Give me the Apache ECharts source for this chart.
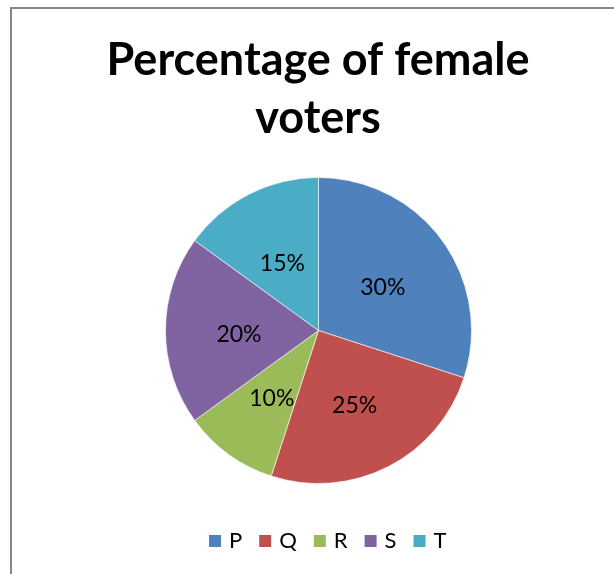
<!DOCTYPE html>
<html>
<head>
<meta charset="utf-8">
<script src="https://cdn.jsdelivr.net/npm/echarts@6/dist/echarts.min.js"></script>
<style>
  html, body { margin: 0; padding: 0; background: #fff; }
  #chart { width: 614px; height: 574px; }
</style>
</head>
<body>
<div id="chart"></div>
<script>
// Share of female voters by group
const categories = ['P', 'Q', 'R', 'S', 'T'];
const values = [30, 25, 10, 20, 15];
const colors = ['#4F81BD', '#C0504D', '#9BBB59', '#8064A2', '#4BACC6'];
const titleText = 'Percentage of female\nvoters';

const chart = echarts.init(document.getElementById('chart'));

chart.setOption({
  animation: false,
  backgroundColor: '#ffffff',
  title: {
    text: titleText,
    left: 313,
    textAlign: 'center',
    top: 26,
    textStyle: {
      fontFamily: 'Lato',
      fontWeight: 'bold',
      fontSize: 45,
      lineHeight: 58,
      color: '#000'
    }
  },
  legend: {
    data: categories,
    top: 525,
    left: 202,
    itemWidth: 14,
    itemHeight: 14,
    itemGap: 15,
    icon: 'rect',
    textStyle: { fontFamily: 'Lato', fontSize: 22, color: '#000', padding: [0, 0, 0, 2] }
  },
  graphic: [{
    type: 'rect',
    shape: { x: 11, y: 8, width: 800, height: 800 },
    style: { fill: 'none', stroke: '#878787', lineWidth: 2 },
    silent: true
  }],
  series: [{
    type: 'pie',
    center: [318.5, 330.5],
    radius: [0, 153],
    startAngle: 90,
    clockwise: true,
    data: categories.map((c, i) => ({ name: c, value: values[i] })),
    color: colors,
    itemStyle: { borderColor: '#ffffff', borderWidth: 0.6 },
    label: {
      show: true,
      position: 'inside',
      formatter: '{c}%',
      fontFamily: 'Lato',
      fontSize: 23,
      color: '#000'
    },
    labelLayout: { dy: 4 },
    labelLine: { show: false },
    emphasis: { disabled: true }
  }]
});
</script>
</body>
</html>
